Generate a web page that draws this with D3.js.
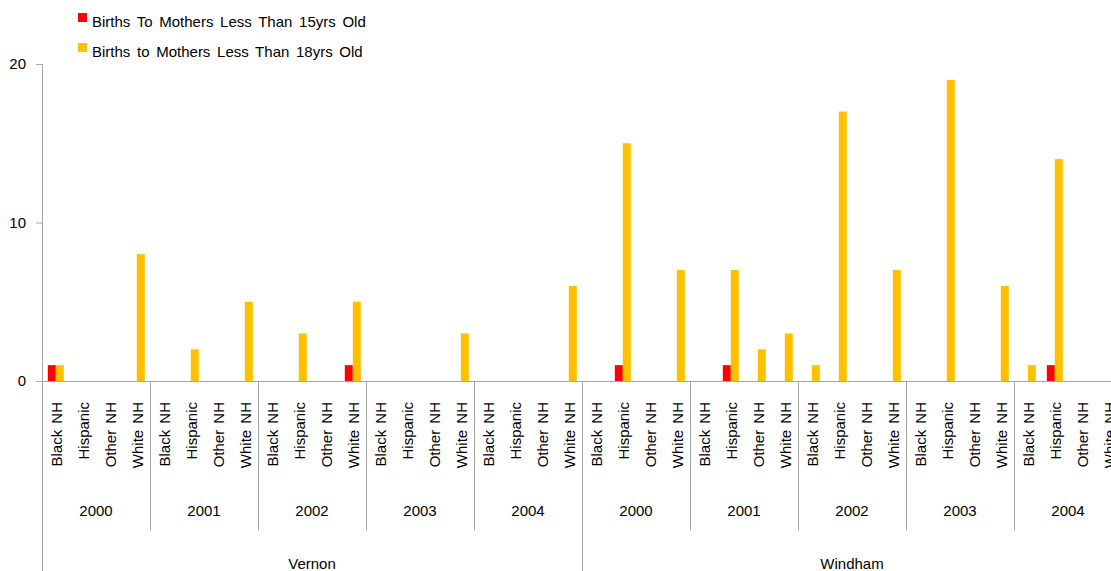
<!DOCTYPE html>
<html>
<head>
<meta charset="utf-8">
<script src="https://cdn.jsdelivr.net/npm/d3@7"></script>
<style>
  body { margin: 0; background: #fff; }
  text { font-family: "Liberation Sans", Arial, sans-serif; fill: #000; }
</style>
</head>
<body>
<svg id="chart" width="1111" height="571"></svg>
<script>
// chart data
var towns = ["Vernon", "Windham"];
var years = ["2000", "2001", "2002", "2003", "2004"];
var races = ["Black NH", "Hispanic", "Other NH", "White NH"];
var seriesNames = ["Births To Mothers Less Than 15yrs Old", "Births to Mothers Less Than 18yrs Old"];
var seriesColors = ["#ff0000", "#ffc000"];
var yTicks = [0, 10, 20];

// values in order town > year > race
var under15 = [
  1, 0, 0, 0,   0, 0, 0, 0,   0, 0, 0, 1,   0, 0, 0, 0,   0, 0, 0, 0,
  0, 1, 0, 0,   0, 1, 0, 0,   0, 0, 0, 0,   0, 0, 0, 0,   0, 1, 0, 0
];
var under18 = [
  1, 0, 0, 8,   0, 2, 0, 5,   0, 3, 0, 5,   0, 0, 0, 3,   0, 0, 0, 6,
  0, 15, 0, 7,  0, 7, 2, 3,   1, 17, 0, 7,  0, 19, 0, 6,  1, 14, 0, 0
];

function main() {
  var svg = d3.select("#chart");
  var left = 42, zeroY = 381, topY = 64;
  var catW = 27;
  var fs = "15px";

  var cats = [];
  towns.forEach(function(t) {
    years.forEach(function(y) {
      races.forEach(function(r) {
        cats.push({ town: t, year: y, race: r, key: t + "|" + y + "|" + r });
      });
    });
  });
  cats.forEach(function(c, i) { c.vals = [under15[i], under18[i]]; });

  var x = d3.scaleBand()
    .domain(cats.map(function(c) { return c.key; }))
    .range([left, left + catW * cats.length])
    .padding(0);

  var x1 = d3.scaleBand()
    .domain([0, 1])
    .range([5.8, 21.8])
    .padding(0);

  var y = d3.scaleLinear().domain([0, 20]).range([zeroY, topY]);

  var grey = "#a6a6a6";

  // bars
  var g = svg.append("g");
  cats.forEach(function(c) {
    c.vals.forEach(function(v, s) {
      if (!v) return;
      g.append("rect")
        .attr("x", x(c.key) + x1(s))
        .attr("y", y(v))
        .attr("width", x1.bandwidth())
        .attr("height", y(0) - y(v))
        .attr("fill", seriesColors[s]);
    });
  });

  // y axis
  var yAxis = d3.axisLeft(y).tickValues(yTicks).tickSize(6).tickPadding(6).tickFormat(d3.format("d"));
  var ya = svg.append("g").attr("transform", "translate(" + left + ",0)").call(yAxis);
  ya.select(".domain").remove();
  ya.selectAll("line").attr("stroke", grey);
  ya.selectAll("text").style("font-size", fs).attr("dx", "-4");

  // vertical axis line down to bottom
  svg.append("line")
    .attr("x1", left + 0.5).attr("x2", left + 0.5)
    .attr("y1", topY).attr("y2", 571)
    .attr("stroke", grey);

  // zero line
  svg.append("line")
    .attr("x1", left - 6).attr("x2", 1111)
    .attr("y1", y(0) + 0.5).attr("y2", y(0) + 0.5)
    .attr("stroke", grey);

  // race labels
  svg.append("g").selectAll("text")
    .data(cats).enter().append("text")
    .attr("transform", function(c) {
      return "translate(" + (x(c.key) + catW / 2 + 1.5) + "," + 402 + ") rotate(-90)";
    })
    .attr("dy", "0.35em")
    .attr("text-anchor", "end")
    .style("font-size", fs)
    .style("word-spacing", "2px")
    .text(function(c) { return c.race; });

  // year groups
  var yearW = catW * races.length;
  towns.forEach(function(t, ti) {
    years.forEach(function(yr, yi) {
      var gx = left + (ti * years.length + yi) * yearW;
      svg.append("text")
        .attr("x", gx + yearW / 2)
        .attr("y", 516)
        .attr("text-anchor", "middle")
        .style("font-size", fs)
        .text(yr);
      if (yi > 0) {
        svg.append("line")
          .attr("x1", gx + 0.5).attr("x2", gx + 0.5)
          .attr("y1", zeroY).attr("y2", 530)
          .attr("stroke", grey);
      }
    });
    var tx = left + ti * years.length * yearW;
    svg.append("text")
      .attr("x", tx + years.length * yearW / 2)
      .attr("y", 569)
      .attr("text-anchor", "middle")
      .style("font-size", fs)
      .text(t);
    if (ti > 0) {
      svg.append("line")
        .attr("x1", tx + 0.5).attr("x2", tx + 0.5)
        .attr("y1", zeroY).attr("y2", 571)
        .attr("stroke", grey);
    }
  });

  // legend
  var leg = svg.append("g");
  seriesNames.forEach(function(name, i) {
    leg.append("rect")
      .attr("x", 78).attr("y", 13 + i * 30)
      .attr("width", 9).attr("height", 9)
      .attr("fill", seriesColors[i]);
    leg.append("text")
      .attr("x", 92).attr("y", 26.5 + i * 30)
      .style("font-size", fs)
      .style("word-spacing", "2.5px")
      .text(name);
  });
}
main();
</script>
</body>
</html>
